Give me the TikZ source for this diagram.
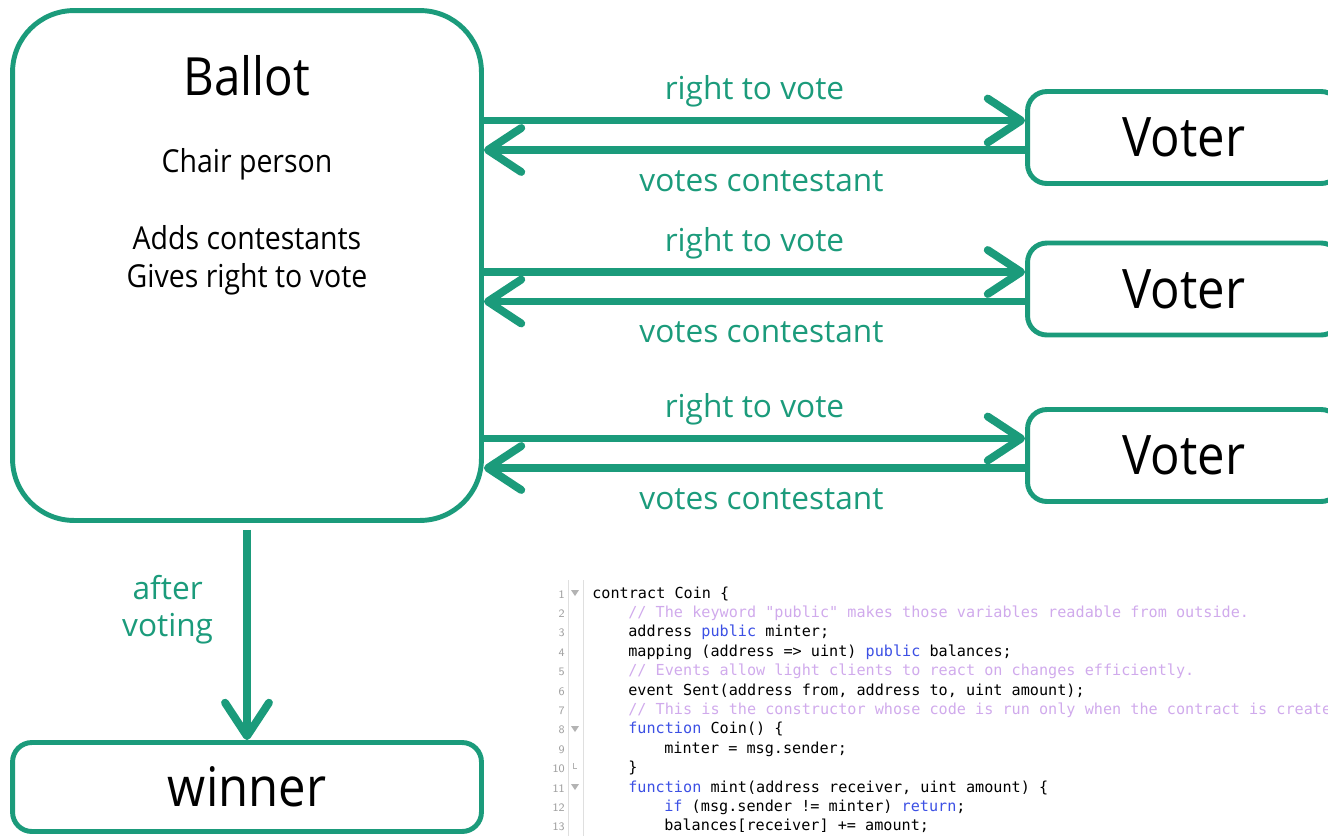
\documentclass[tikz,border=0pt]{standalone}
\usepackage{fontspec}
\setmainfont{Open Sans}
\setmonofont{DejaVu Sans Mono}
\newfontfamily\boxfont[FakeStretch=0.9]{Open Sans}
\usetikzlibrary{arrows.meta}
\usetikzlibrary{positioning}

\definecolor{votegreen}{RGB}{27,155,123}
\definecolor{cmtpurple}{RGB}{208,170,236}
\definecolor{kwblue}{RGB}{60,80,228}
\definecolor{gutgray}{RGB}{160,160,160}

\newcommand{\kw}[1]{\textcolor{kwblue}{#1}}
\newcommand{\cmt}[1]{\textcolor{cmtpurple}{#1}}

\begin{document}
\begin{tikzpicture}
  [x=0.02cm, y=-0.02cm,
  box/.style={draw=votegreen, line width=2.8pt, fill=white, rounded corners=11pt},
  bigbox/.style={box, rounded corners=35pt, minimum width=9.38cm, minimum height=10.2cm},
  voterbox/.style={box, minimum width=6.26cm, minimum height=1.84cm, font=\boxfont\fontsize{31}{36}\selectfont},
  title/.style={font=\boxfont\fontsize{30}{34}\selectfont, inner sep=0pt},
  duty/.style={font=\boxfont\fontsize{18}{21}\selectfont, inner sep=0pt},
  lbl/.style={text=votegreen, font=\fontsize{18}{21.5}\selectfont, inner sep=0pt},
  flow/.style={draw=votegreen, line width=4.5pt,
    -{Straight Barb[length=19pt, width=25pt, line cap=round, line join=round]}},
  code/.style={anchor=base west, inner sep=0pt, font=\ttfamily\fontsize{8.63}{10}\selectfont},
  lnum/.style={anchor=base east, inner sep=0pt, text=gutgray, font=\sffamily\fontsize{6.5}{7}\selectfont}]

\useasboundingbox (0,0) rectangle (1328,836);
\clip (0,0) rectangle (1328,836);

% ballot contract
\node [bigbox] (ballot) at (247,265.5) {};
\node [title, anchor=base] (ballottitle) at (247,95) {Ballot};
\node [duty, anchor=base] (chair) at (247,172) {Chair person};
\node [duty, anchor=base] (adds) at (247,249) {Adds contestants};
\node [duty, anchor=base] (gives) at (247,287) {Gives right to vote};

% voters
\node [voterbox] (voter1) at (1184,137.5) {Voter};
\node [voterbox] (voter2) at (1184,289) {Voter};
\node [voterbox] (voter3) at (1184,455.5) {Voter};

\coordinate (in1) at ([yshift=0.34cm]voter1.west);
\coordinate (out1) at ([yshift=-0.25cm]voter1.west);
\coordinate (in2) at ([yshift=0.34cm]voter2.west);
\coordinate (out2) at ([yshift=-0.25cm]voter2.west);
\coordinate (in3) at ([yshift=0.34cm]voter3.west);
\coordinate (out3) at ([yshift=-0.25cm]voter3.west);

\draw [flow] (in1 -| ballot.east) -- node [lbl, above=0.18cm] {right to vote} (in1);
\draw [flow] (out1) -- node [lbl, below=0.33cm, xshift=0.14cm] {votes contestant} (out1 -| ballot.east);
\draw [flow] (in2 -| ballot.east) -- node [lbl, above=0.18cm] {right to vote} (in2);
\draw [flow] (out2) -- node [lbl, below=0.33cm, xshift=0.14cm] {votes contestant} (out2 -| ballot.east);
\draw [flow] (in3 -| ballot.east) -- node [lbl, above=0.18cm] {right to vote} (in3);
\draw [flow] (out3) -- node [lbl, below=0.33cm, xshift=0.14cm] {votes contestant} (out3 -| ballot.east);

% result
\node [box, minimum width=9.38cm, minimum height=1.78cm, font=\boxfont\fontsize{31}{34}\selectfont]
  (winner) at (247,787) {winner};
\draw [flow, shorten <=4pt] (ballot.south) -- node [lbl, left=0.6cm, pos=0.4, align=center] {after\\voting} (winner.north);

% code excerpt
\draw [gray!25, line width=0.4pt] (568,580) -- (568,836);
\draw [gray!25, line width=0.4pt] (583,580) -- (583,836);
\foreach \n in {1,...,13}
  \node [lnum] (num\n) at (565,{598+19.4*(\n-1)}) {\n};
\fill [gutgray!80] (571,590) -- (579,590) -- (575,596) -- cycle;
\fill [gutgray!80] (571,726) -- (579,726) -- (575,732) -- cycle;
\fill [gutgray!80] (571,784) -- (579,784) -- (575,790) -- cycle;
\draw [gutgray!80, line width=0.5pt] (573,763) -- (573,768) -- (577,768);

\node [code] (line1) at (592,598) {contract Coin \{};
\node [code] (line2) at (628,617.4) {\cmt{// The keyword "public" makes those variables readable from outside.}};
\node [code] (line3) at (628,636.8) {address \kw{public} minter;};
\node [code] (line4) at (628,656.2) {mapping (address => uint) \kw{public} balances;};
\node [code] (line5) at (628,675.6) {\cmt{// Events allow light clients to react on changes efficiently.}};
\node [code] (line6) at (628,695) {event Sent(address from, address to, uint amount);};
\node [code] (line7) at (628,714.4) {\cmt{// This is the constructor whose code is run only when the contract is created.}};
\node [code] (line8) at (628,733.8) {\kw{function} Coin() \{};
\node [code] (line9) at (664,753.2) {minter = msg.sender;};
\node [code] (line10) at (628,772.6) {\}};
\node [code] (line11) at (628,792) {\kw{function} mint(address receiver, uint amount) \{};
\node [code] (line12) at (664,811.4) {\kw{if} (msg.sender != minter) \kw{return};};
\node [code] (line13) at (664,830.8) {balances[receiver] += amount;};
\end{tikzpicture}
\end{document}
